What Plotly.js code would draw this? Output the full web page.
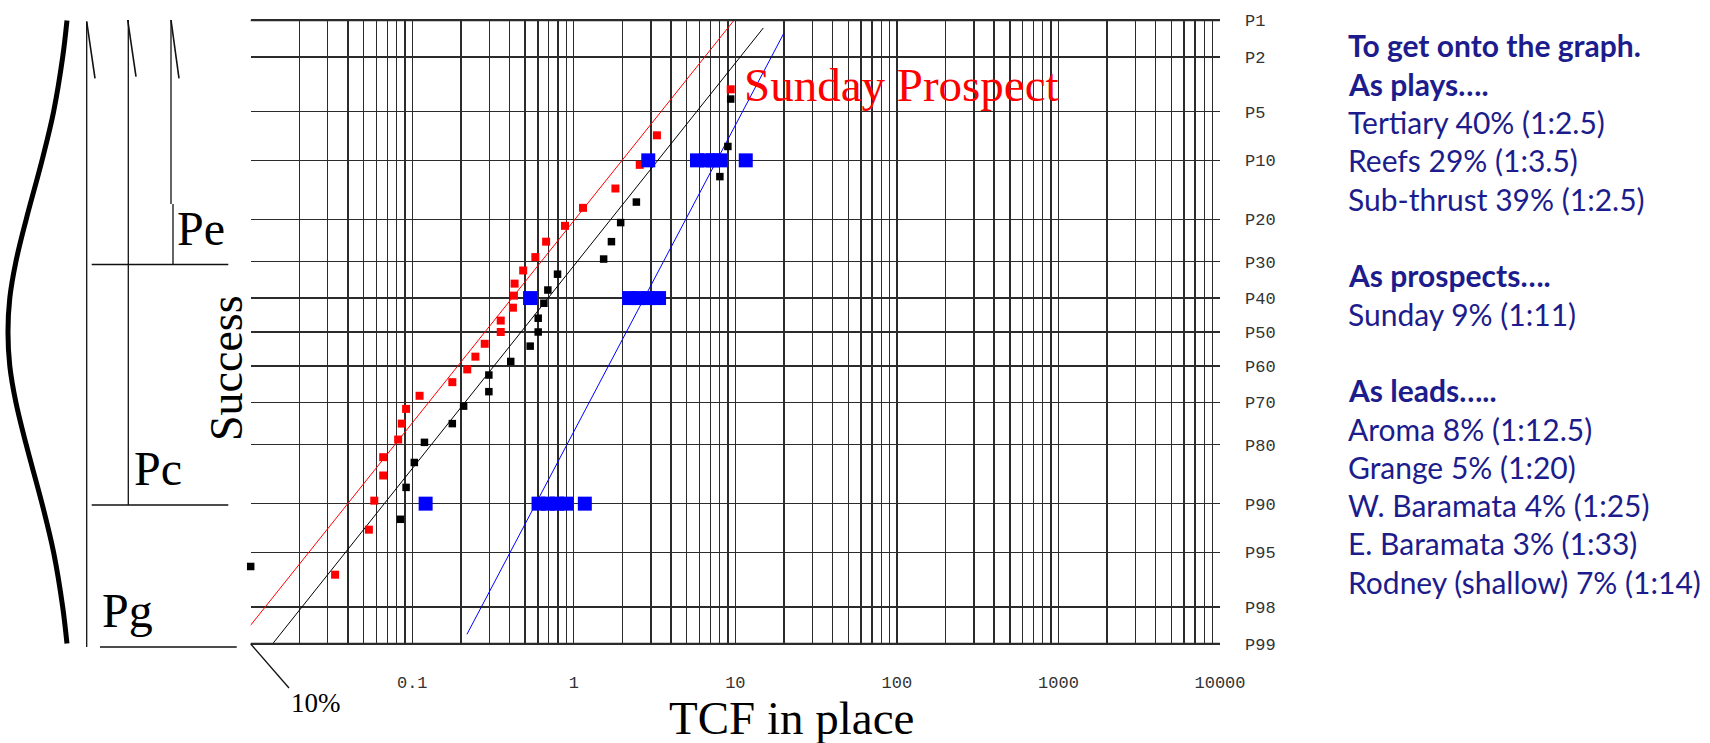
<!DOCTYPE html>
<html><head><meta charset="utf-8">
<script src="https://cdn.plot.ly/plotly-3.0.1.min.js"></script>
<style>html,body{margin:0;padding:0;background:#fff;} #chart{width:1710px;height:743px;}</style>
</head><body><div id="chart"></div>
<script>
// ---- axis categories / tick labels ----
const pLevels = [1, 2, 5, 10, 20, 30, 40, 50, 60, 70, 80, 90, 95, 98, 99];
const pLabels = ['P1','P2','P5','P10','P20','P30','P40','P50','P60','P70','P80','P90','P95','P98','P99'];
const xTickVals = [0.1, 1, 10, 100, 1000, 10000];
const xTickText = ['0.1', '1', '10', '100', '1000', '10000'];

// ---- red series (TCF in place, exceedance %) ----
const redTCF = [9.36, 3.27, 2.56, 1.81, 1.14, 0.882, 0.674, 0.578, 0.486, 0.430, 0.426, 0.420, 0.353, 0.353,
                0.281, 0.246, 0.219, 0.177, 0.111, 0.0916, 0.0861, 0.0818, 0.0661, 0.0661, 0.0582, 0.0539, 0.0333];
const redP   = [3.5, 7.1, 10.6, 14.2, 17.7, 21.4, 25.0, 28.8, 32.3, 35.9, 39.3, 42.8, 46.6, 50.0,
                53.5, 57.3, 61.0, 64.6, 68.3, 71.7, 75.3, 78.9, 82.5, 85.8, 89.6, 93.0, 96.5];
// ---- black series ----
const blackTCF = [9.36, 8.99, 8.02, 2.44, 1.95, 1.71, 1.53, 0.793, 0.691, 0.653, 0.602, 0.602,
                  0.537, 0.407, 0.298, 0.298, 0.208, 0.177, 0.119, 0.103, 0.0916, 0.0845, 0.010];
const blackP   = [4.1, 8.3, 12.3, 16.6, 20.7, 25.0, 29.3, 33.3, 37.7, 41.5, 45.9, 50.0,
                  54.2, 58.7, 62.6, 67.2, 71.0, 75.3, 79.5, 83.5, 87.7, 91.9, 96.0];
// ---- blue series ----
const blueTCF = [2.89, 5.79, 6.67, 7.27, 8.04, 11.6, 0.536, 2.20, 2.50, 2.88, 3.37, 0.121, 0.605, 0.692, 0.787, 0.901, 1.17];
const blueP   = [10, 10, 10, 10, 10, 10, 40, 40, 40, 40, 40, 90, 90, 90, 90, 90, 90];
// ---- trend lines (end points) ----
const redLineTCF = [0.009, 9.8];    const redLineP = [98.8, 1.0];
const blackLineTCF = [0.0137, 14.9]; const blackLineP = [99.0, 1.16];
const blueLineTCF = [0.218, 20.0];   const blueLineP = [98.8, 1.28];
// ---- bell curve (relative density read at each P level) ----
const bellDensity = [0.03, 0.10, 0.25, 0.44, 0.70, 0.87, 0.97, 1.0, 0.97, 0.87, 0.70, 0.44, 0.25, 0.10, 0.03];
// ---- side notes ----
const noteLines = ['To get onto the graph.', 'As plays….', 'Tertiary 40% (1:2.5)', 'Reefs 29% (1:3.5)',
  'Sub-thrust 39% (1:2.5)', '', 'As prospects….', 'Sunday 9% (1:11)', '', 'As leads…..',
  'Aroma 8% (1:12.5)', 'Grange 5% (1:20)', 'W. Baramata 4% (1:25)', 'E. Baramata 3% (1:33)', 'Rodney (shallow) 7% (1:14)'];
const noteBold = [true, true, false, false, false, false, true, false, false, true, false, false, false, false, false];

// inverse normal CDF (Acklam)
function probit(p) {
  const a=[-3.969683028665376e+01,2.209460984245205e+02,-2.759285104469687e+02,1.383577518672690e+02,-3.066479806614716e+01,2.506628277459239e+00];
  const b=[-5.447609879822406e+01,1.615858368580409e+02,-1.556989798598866e+02,6.680131188771972e+01,-1.328068155288572e+01];
  const c=[-7.784894002430293e-03,-3.223964580411365e-01,-2.400758277161838e+00,-2.549732539343734e+00,4.374664141464968e+00,2.938163982698783e+00];
  const d=[7.784695709041462e-03,3.224671290700398e-01,2.445134137142996e+00,3.754408661907416e+00];
  const pl=0.02425, ph=1-pl; let q, r;
  if (p < pl) { q=Math.sqrt(-2*Math.log(p)); return (((((c[0]*q+c[1])*q+c[2])*q+c[3])*q+c[4])*q+c[5])/((((d[0]*q+d[1])*q+d[2])*q+d[3])*q+1); }
  if (p <= ph) { q=p-0.5; r=q*q; return (((((a[0]*r+a[1])*r+a[2])*r+a[3])*r+a[4])*r+a[5])*q/(((((b[0]*r+b[1])*r+b[2])*r+b[3])*r+b[4])*r+1); }
  q=Math.sqrt(-2*Math.log(1-p)); return -(((((c[0]*q+c[1])*q+c[2])*q+c[3])*q+c[4])*q+c[5])/((((d[0]*q+d[1])*q+d[2])*q+d[3])*q+1);
}
const zOf = P => probit(1 - P/100);

const W = 1710, TOP = 20, BOT = 644;
const px = x => x / W;
const py = y => (BOT - y) / (BOT - TOP);

const gridColor = '#2b2b2b';
const minorVals = [];
for (let e = -2; e <= 3; e++) for (let k = 1; k <= 9; k++) minorVals.push(k * Math.pow(10, e));

const traces = [
  {x: redLineTCF, y: redLineP.map(zOf), mode: 'lines', line: {color: '#ff0000', width: 1}, hoverinfo: 'skip'},
  {x: blackLineTCF, y: blackLineP.map(zOf), mode: 'lines', line: {color: '#000000', width: 1}, hoverinfo: 'skip'},
  {x: blueLineTCF, y: blueLineP.map(zOf), mode: 'lines', line: {color: '#0000ff', width: 1}, hoverinfo: 'skip'},
  {x: blackTCF, y: blackP.map(zOf), mode: 'markers', cliponaxis: false, marker: {symbol: 'square', size: 7.5, color: '#000000'}},
  {x: redTCF, y: redP.map(zOf), mode: 'markers', cliponaxis: false, marker: {symbol: 'square', size: 8, color: '#ff0000'}},
  {x: blueTCF, y: blueP.map(zOf), mode: 'markers', cliponaxis: false, marker: {symbol: 'square', size: 14, color: '#0000ff'}},
  {x: bellDensity, y: pLevels.map(zOf), xaxis: 'x2', yaxis: 'y2', mode: 'lines', line: {color: '#000', width: 5, shape: 'spline'}, hoverinfo: 'skip'}
];

const zr = [zOf(99) - 0.003, zOf(1) + 0.003];
const serif = 'Liberation Serif, Times New Roman, serif';
const mono = 'Liberation Mono, DejaVu Sans Mono, monospace';

const annotations = [
  {text: 'Sunday Prospect', x: px(742), y: py(85.5), xanchor: 'left', yanchor: 'middle', font: {family: serif, size: 47, color: '#ff0000'}},
  {text: 'Success', x: px(226), y: py(368), textangle: -90, xanchor: 'center', yanchor: 'middle', font: {family: serif, size: 46, color: '#000'}},
  {text: 'TCF in place', x: px(791), y: py(718), xanchor: 'center', yanchor: 'middle', borderpad: 0, font: {family: serif, size: 47, color: '#000'}},
  {text: '10%', x: px(289), y: py(703), xanchor: 'left', yanchor: 'middle', font: {family: serif, size: 27, color: '#000'}},
  {text: 'Pe', x: px(175), y: py(228), xanchor: 'left', yanchor: 'middle', font: {family: serif, size: 48, color: '#000'}},
  {text: 'Pc', x: px(131.5), y: py(468), xanchor: 'left', yanchor: 'middle', font: {family: serif, size: 48, color: '#000'}},
  {text: 'Pg', x: px(99.5), y: py(610), xanchor: 'left', yanchor: 'middle', font: {family: serif, size: 48, color: '#000'}}
];
noteLines.forEach((t, i) => {
  if (!t) return;
  annotations.push({text: noteBold[i] ? '<b>' + t + '</b>' : t, x: px(1346), y: py(45.5 + i * 38.3),
    xanchor: 'left', yanchor: 'middle', font: {family: 'Lato, Open Sans, sans-serif', size: 30, color: '#1c1c8c'}});
});
annotations.forEach(a => { a.xref = 'paper'; a.yref = 'paper'; a.showarrow = false; });

const seg = (x0, y0, x1, y1, w) => ({type: 'line', xref: 'paper', yref: 'paper',
  x0: px(x0), y0: py(y0), x1: px(x1), y1: py(y1), line: {color: '#111', width: w || 1.3}});
// plot frame lines at the P1 and P99 levels
const border = P => ({type: 'line', xref: 'paper', yref: 'y', layer: 'above',
  x0: px(250.7), x1: px(1220), y0: zOf(P), y1: zOf(P), line: {color: gridColor, width: 1.6}});
const shapes = [
  seg(86.7, 21.5, 86.7, 647), seg(86.7, 21.5, 95, 78.3, 1.6),
  seg(128.3, 20, 128.3, 505), seg(127.7, 20, 136, 76.7, 1.6),
  seg(171, 20, 171, 204), seg(173, 204, 173, 264.5), seg(171, 20, 179, 78.3, 1.6),
  seg(91.7, 264.5, 228.3, 264.5), seg(91.7, 505, 228.3, 505), seg(100, 647, 236.7, 647),
  seg(250.7, 644, 289, 688),
  border(1), border(99)
];

const layout = {
  width: 1710, height: 743, margin: {l: 0, r: 0, t: TOP, b: 743 - BOT},
  paper_bgcolor: '#fff', plot_bgcolor: 'rgba(0,0,0,0)', showlegend: false,
  xaxis: {type: 'log', domain: [px(250.7), px(1220)], range: [-2, 4], anchor: 'y',
    tickmode: 'array', tickvals: xTickVals, ticktext: xTickText, showgrid: false, zeroline: false,
    showline: true, mirror: true, linecolor: gridColor, linewidth: 1.4,
    ticks: '', ticklabelstandoff: 22, tickfont: {family: mono, size: 17, color: '#333'},
    minor: {tickmode: 'array', tickvals: minorVals, showgrid: true, gridcolor: gridColor, gridwidth: 1.4, ticks: ''}},
  yaxis: {domain: [0, 1], range: zr, anchor: 'x', side: 'right', tickmode: 'array',
    tickvals: pLevels.map(zOf), ticktext: pLabels, showgrid: true, gridcolor: gridColor, gridwidth: 1.4,
    zeroline: false, showline: false, ticks: '', ticklabelstandoff: 24, tickfont: {family: mono, size: 17, color: '#333'}},
  xaxis2: {domain: [0, px(250)], range: [1.131, -2.979], anchor: 'y2', visible: false, showgrid: false, zeroline: false},
  yaxis2: {domain: [0, 1], range: zr, anchor: 'x2', visible: false, showgrid: false, zeroline: false},
  annotations: annotations, shapes: shapes
};

Plotly.newPlot('chart', traces, layout, {displayModeBar: false, staticPlot: true});
</script></body></html>
